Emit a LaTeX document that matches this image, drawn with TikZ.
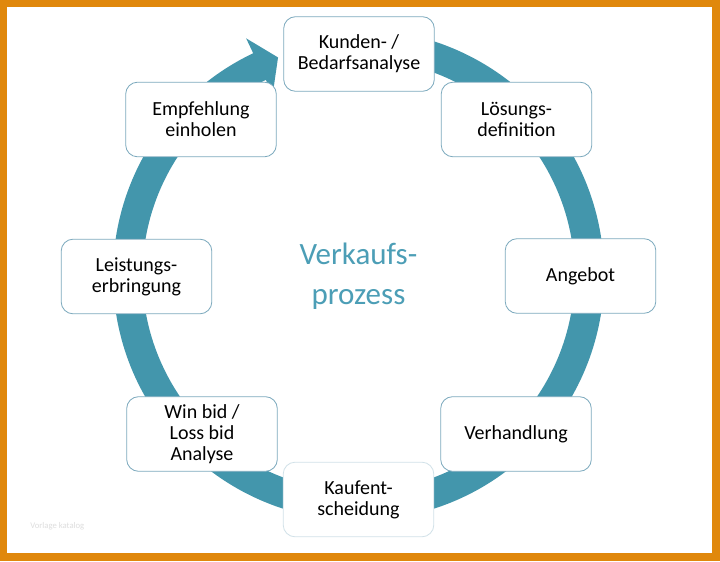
\documentclass[tikz,border=0pt]{standalone}
\usepackage{fontspec}
\setmainfont{Carlito}
\usetikzlibrary{calc}

\definecolor{frameorange}{RGB}{224,136,12}
\definecolor{ringteal}{RGB}{67,150,172}
\definecolor{titleteal}{RGB}{76,158,182}
\definecolor{boxline}{RGB}{125,170,190}

\tikzset{
    phase/.style={draw=boxline, line width=0.6pt, fill=white, rounded corners=9pt,
        minimum width=113pt, minimum height=56pt, inner sep=2pt, align=center,
        font=\fontsize{15}{15.75}\selectfont, text=black},
}

\begin{document}
\begin{tikzpicture}[x=0.75pt, y=0.75pt]
    \useasboundingbox (0,0) rectangle (720,561);
    \fill[frameorange] (0,0) rectangle (720,561);
    \fill[white] (7,8) rectangle (712,554);

    \coordinate (ctr) at (358.5,286);

    % ring with arrow head
    \begin{scope}[shift={(ctr)}]
        \fill[ringteal] (100:245.5) arc[start angle=100, end angle=-244.6, radius=245.5]
            -- (115.4:262) -- (110.3:232) -- (115.4:200) -- (115.4:216)
            arc[start angle=-244.6, end angle=100, radius=216] -- cycle;
    \end{scope}

    \node[phase] (kunden) at (359,507) {Kunden- /\\Bedarfsanalyse};
    \node[phase] (loesung) at (516.5,441.5) {Lösungs-\\definition};
    \node[phase] (angebot) at (580.5,285) {Angebot};
    \node[phase] (verhandlung) at (516,127) {Verhandlung};
    \node[phase, draw=boxline!35] (kauf) at (358.5,61.5) {Kaufent-\\scheidung};
    \node[phase] (winloss) at (202,127) {Win bid /\\Loss bid\\Analyse};
    \node[phase] (leistung) at (136.5,284.5) {Leistungs-\\erbringung};
    \node[phase] (empfehlung) at (201,441.5) {Empfehlung\\einholen};

    \node[align=center, text=titleteal, font=\fontsize{23.25}{30}\selectfont] (title) at (358.5,285) {Verkaufs-\\prozess};

    \node[anchor=west, inner sep=0pt, text=black!13, font=\fontsize{6.5}{7}\selectfont] (wm) at (30,35) {Vorlage katalog};
\end{tikzpicture}
\end{document}
